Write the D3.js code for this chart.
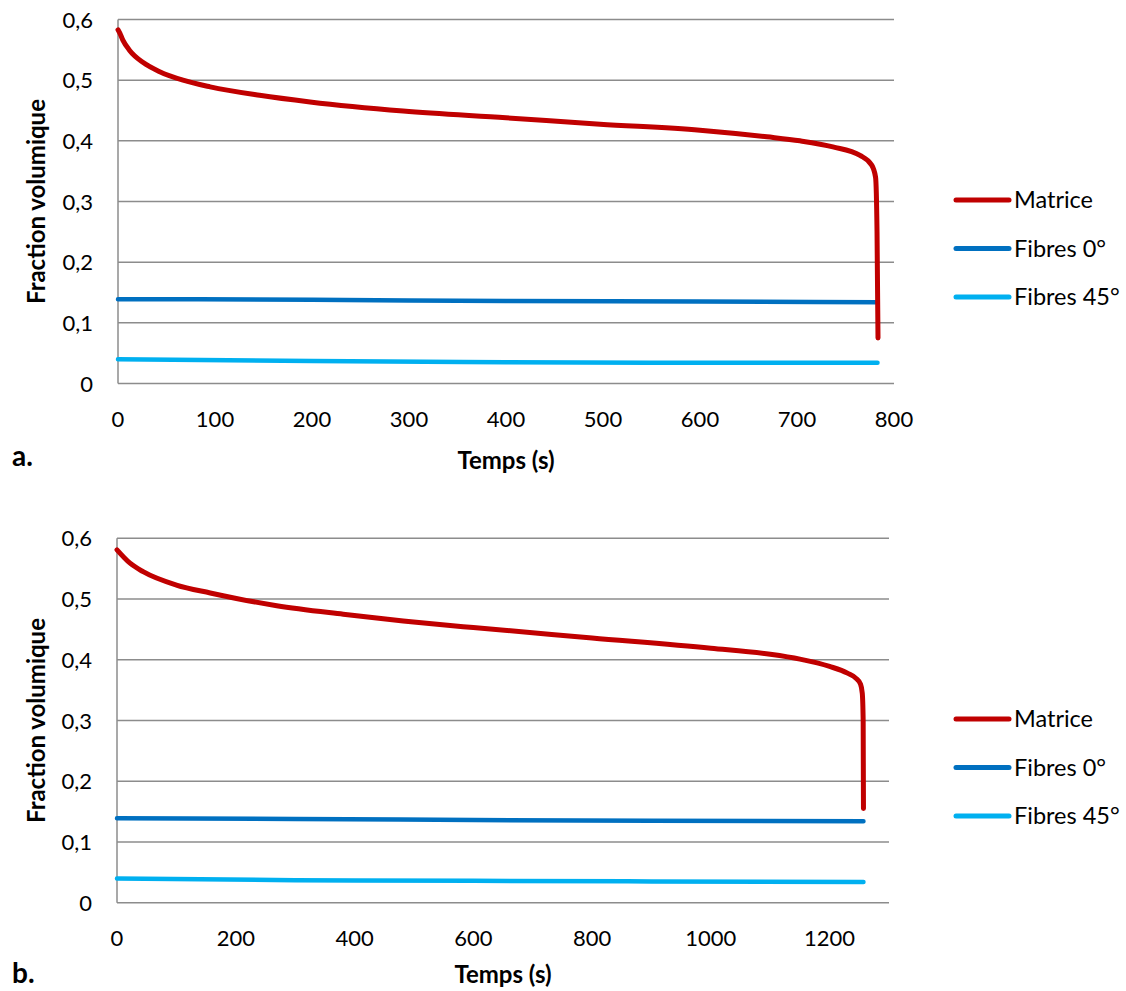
<!DOCTYPE html>
<html><head><meta charset="utf-8">
<script src="https://cdn.jsdelivr.net/npm/d3@7"></script>
<style>body{margin:0;background:#fff}svg{font-family:Lato,"Open Sans",sans-serif}</style>
</head><body><svg id="c" width="1126" height="991"></svg>
<script>
// Series names & colours
const seriesNames = ["Matrice", "Fibres 0°", "Fibres 45°"];
const seriesColors = ["#C00000", "#0070C0", "#00B0F0"];
const yTicks = [0, 0.1, 0.2, 0.3, 0.4, 0.5, 0.6];

// Chart a
const timeA = [0, 2, 5, 12, 26, 43, 67, 95, 146, 198, 294, 400, 497, 600, 669, 703, 737, 765, 777, 781, 782.5, 783.5];
const matriceA = [0.583, 0.577, 0.566, 0.549, 0.529, 0.514, 0.500, 0.489, 0.475, 0.464, 0.449, 0.438, 0.4275, 0.4176, 0.4066, 0.400, 0.390, 0.376, 0.360, 0.340, 0.25, 0.075];
const fibTimeA = [0, 200, 400, 600, 783];
const fibres0A = [0.139, 0.138, 0.136, 0.135, 0.134];
const fibres45A = [0.040, 0.037, 0.035, 0.034, 0.034];
const xTicksA = [0, 100, 200, 300, 400, 500, 600, 700, 800];

// Chart b
const timeB = [0, 22, 44, 100, 157, 201, 269, 381, 482, 600, 800, 1000, 1100, 1150, 1200, 1230, 1245, 1252, 1255, 1256.5, 1257];
const matriceB = [0.581, 0.559, 0.545, 0.523, 0.510, 0.501, 0.489, 0.475, 0.464, 0.453, 0.436, 0.419, 0.409, 0.401, 0.389, 0.378, 0.369, 0.360, 0.345, 0.30, 0.155];
const fibTimeB = [0, 300, 600, 900, 1257];
const fibres0B = [0.139, 0.138, 0.136, 0.135, 0.134];
const fibres45B = [0.040, 0.037, 0.036, 0.035, 0.034];
const xTicksB = [0, 200, 400, 600, 800, 1000, 1200];

const svg = d3.select("#c");

function drawChart(cfg) {
  const g = svg.append("g");
  const x = d3.scaleLinear().domain([0, cfg.xMax]).range([cfg.left, cfg.right]);
  const y = d3.scaleLinear().domain([0, 0.6]).range([cfg.bottom, cfg.top]);

  g.selectAll("line.grid").data(yTicks).enter().append("line")
    .attr("x1", cfg.left).attr("x2", cfg.right)
    .attr("y1", d => y(d)).attr("y2", d => y(d))
    .attr("stroke", "#8c8c8c").attr("stroke-width", 1.5);
  g.append("line").attr("x1", cfg.left).attr("x2", cfg.left)
    .attr("y1", cfg.top).attr("y2", cfg.bottom)
    .attr("stroke", "#8c8c8c").attr("stroke-width", 1.5);

  g.selectAll("text.yt").data(yTicks).enter().append("text")
    .attr("x", cfg.left - 25).attr("y", d => y(d) + 8)
    .attr("text-anchor", "end").attr("font-size", 22).attr("fill", "#000")
    .text(d => d === 0 ? "0" : d.toFixed(1).replace(".", ","));
  g.selectAll("text.xt").data(cfg.xTicks).enter().append("text")
    .attr("x", d => x(d)).attr("y", cfg.bottom + 43)
    .attr("text-anchor", "middle").attr("font-size", 22).attr("fill", "#000")
    .text(d => d);

  const smooth = d3.line().x(d => x(d[0])).y(d => y(d[1])).curve(d3.curveMonotoneX);

  const series = [
    { t: cfg.fibT, v: cfg.f45, c: seriesColors[2], w: 4.5 },
    { t: cfg.fibT, v: cfg.f0, c: seriesColors[1], w: 4.5 },
    { t: cfg.mT, v: cfg.m, c: seriesColors[0], w: 5 }
  ];
  series.forEach(s => {
    const pts = s.t.map((t, k) => [t, s.v[k]]);
    g.append("path").attr("d", smooth(pts))
      .attr("fill", "none").attr("stroke", s.c).attr("stroke-width", s.w)
      .attr("stroke-linecap", "round").attr("stroke-linejoin", "round");
  });

  g.append("text").attr("x", (cfg.left + cfg.right) / 2).attr("y", cfg.bottom + cfg.titleOff)
    .attr("text-anchor", "middle").attr("font-size", 24).attr("font-weight", "bold")
    .text("Temps (s)");
  g.append("text").attr("transform", `translate(45,${(cfg.top + cfg.bottom) / 2}) rotate(-90)`)
    .attr("text-anchor", "middle").attr("font-size", 24).attr("font-weight", "bold")
    .text("Fraction volumique");
  g.append("text").attr("x", 12).attr("y", cfg.bottom + cfg.labelOff)
    .attr("font-size", 28).attr("font-weight", "bold").text(cfg.label);

  seriesNames.forEach((n, i) => {
    const ly = cfg.legendY + i * 48.5;
    g.append("line").attr("x1", 956).attr("x2", 1009).attr("y1", ly).attr("y2", ly)
      .attr("stroke", seriesColors[i]).attr("stroke-width", 5).attr("stroke-linecap", "round");
    g.append("text").attr("x", 1014).attr("y", ly + 8).attr("font-size", 23.5).text(n);
  });
}

drawChart({ left: 118, right: 894, top: 19.5, bottom: 383.5, xMax: 800, xTicks: xTicksA,
  mT: timeA, m: matriceA, fibT: fibTimeA, f0: fibres0A, f45: fibres45A, label: "a.", legendY: 200,
  titleOff: 85, labelOff: 82 });
drawChart({ left: 117, right: 889, top: 538.3, bottom: 902.7, xMax: 1300, xTicks: xTicksB,
  mT: timeB, m: matriceB, fibT: fibTimeB, f0: fibres0B, f45: fibres45B, label: "b.", legendY: 719,
  titleOff: 80, labelOff: 80 });
</script></body></html>
